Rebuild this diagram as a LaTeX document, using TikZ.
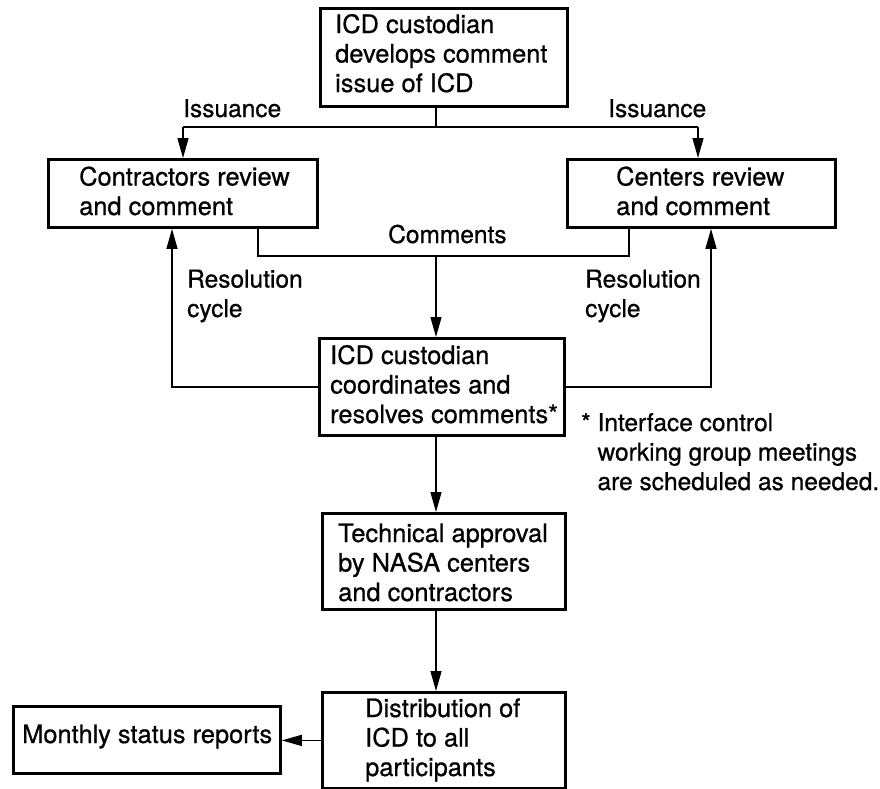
\documentclass[tikz,border=0pt]{standalone}
\usepackage{fontspec}
\setmainfont{TeX Gyre Heros}
\newfontfamily\chartfont{TeX Gyre Heros}[FakeBold=0.7]
\usetikzlibrary{arrows.meta}
\begin{document}
\begin{tikzpicture}[x=1pt,y=-1pt,
  box/.style={draw, line width=2.8pt, inner sep=0pt, anchor=north west},
  txt/.style={inner sep=0pt, align=left, anchor=base west,
              font=\chartfont\fontsize{24.5}{29.5}\selectfont},
  boxtxt/.style={txt, font=\chartfont\fontsize{25.4}{29.5}\selectfont},
  link/.style={line width=1.3pt},
  arr/.style={link, -{Triangle[length=20pt,width=11pt]}},
]
\useasboundingbox[fill=white] (0,0) rectangle (880,788);

% boxes
\node[box, minimum width=247pt, minimum height=98pt] (top) at (319,7) {};
\node[box, minimum width=269pt, minimum height=68pt] (con) at (47,158) {};
\node[box, minimum width=268pt, minimum height=68pt] (cen) at (566,158) {};
\node[box, minimum width=245pt, minimum height=97pt] (mid) at (318,337) {};
\node[box, minimum width=243pt, minimum height=96pt] (tec) at (321,512) {};
\node[box, minimum width=243pt, minimum height=96pt] (dis) at (321,691) {};
\node[box, minimum width=267pt, minimum height=67pt] (mon) at (12,705) {};

% box texts (anchored at the baseline of their last line)
\node[boxtxt] (topT) at (335,92) {ICD custodian\\develops comment\\issue of ICD};
\node[boxtxt] (conT) at (79,215) {Contractors review\\and comment};
\node[boxtxt] (cenT) at (616,215) {Centers review\\and comment};
\node[boxtxt] (midT) at (330,423) {ICD custodian\\coordinates and\\resolves comments*};
\node[boxtxt] (tecT) at (338,601) {Technical approval\\by NASA centers\\and contractors};
\node[boxtxt] (disT) at (365,776) {Distribution of\\ICD to all\\participants};
\node[boxtxt] (monT) at (22,743) {Monthly status reports};

% connector labels
\node[txt] (issLT) at (183,117) {Issuance};
\node[txt] (issRT) at (608,117) {Issuance};
\node[txt] (cmT) at (388,243) {Comments};
\node[txt] (rsLT) at (187,317) {Resolution\\cycle};
\node[txt] (rsRT) at (585,317) {Resolution\\cycle};
\node[txt] (note) at (581,490) {* Interface control\\\hphantom{* }working group meetings\\\hphantom{* }are scheduled as needed.};

% routing points
\coordinate (split) at (436,127);
\coordinate (issL) at (183,127);
\coordinate (issR) at (698,127);
\coordinate (cmL) at (258,256);
\coordinate (cmR) at (629,256);
\coordinate (cmM) at (436,256);
\coordinate (rsL) at (172,387);
\coordinate (rsR) at (711,387);

% issuance
\draw[link] (top.south -| split) -- (split);
\draw[link] (issL) -- (issR);
\draw[arr] (issL) -- (issL |- con.north);
\draw[arr] (issR) -- (issR |- cen.north);

% comments
\draw[link] (cmL |- con.south) -- (cmL) -- (cmR) -- (cmR |- cen.south);
\draw[arr] (cmM) -- (cmM |- mid.north);

% resolution cycle
\draw[arr] (mid.west) -| (rsL |- con.south);
\draw[arr] (mid.east) -| (rsR |- cen.south);

% approval and distribution
\draw[arr] (mid.south -| split) -- (tec.north -| split);
\draw[arr] (tec.south -| split) -- (dis.north -| split);
\draw[arr] (dis.west) -- (dis.west -| mon.east);
\end{tikzpicture}
\end{document}
